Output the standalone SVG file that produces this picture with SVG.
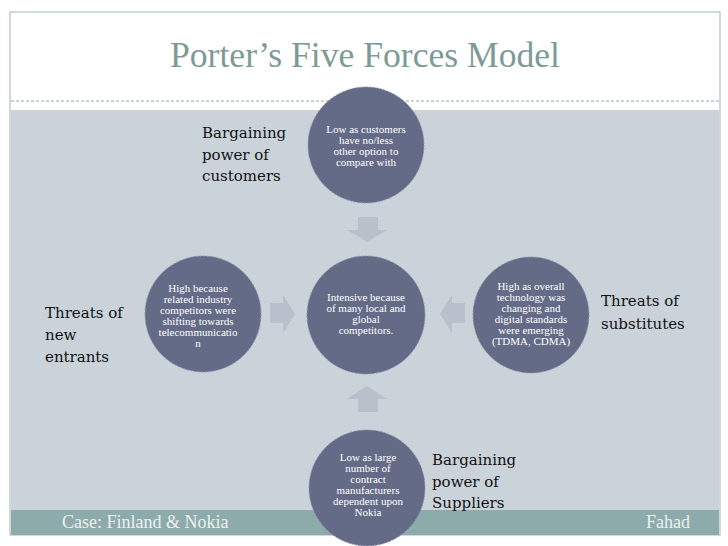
<svg xmlns="http://www.w3.org/2000/svg" width="728" height="546" viewBox="0 0 728 546">
<style>
.node{fill:#636b87;stroke:#8d93aa;stroke-width:1;stroke-dasharray:2 1.5}
.ct{font-family:"Liberation Serif",serif;font-size:11px;fill:#ffffff;text-anchor:middle}
.lb{font-family:"DejaVu Serif",serif;font-size:15px;fill:#111111}
.arr{fill:#b9c0cb}
</style>
<rect width="728" height="546" fill="#ffffff"/>
<rect x="10" y="12" width="710" height="523" fill="#ffffff" stroke="#9fb3b0" stroke-width="1"/>
<rect x="11" y="110" width="708" height="400" fill="#c9d3d9"/>
<rect x="11" y="510" width="708" height="25" fill="#8cabaa"/>
<line x1="11" y1="101" x2="719" y2="101" stroke="#9aa4a8" stroke-width="1" stroke-dasharray="3 2"/>
<text x="365" y="67" font-family="Liberation Serif,serif" font-size="35" fill="#7e9a96" text-anchor="middle" textLength="390" lengthAdjust="spacingAndGlyphs">Porter’s Five Forces Model</text>
<text x="62" y="528" font-family="Liberation Serif,serif" font-size="18" fill="#eef2f1">Case: Finland &amp; Nokia</text>
<text x="690" y="528" font-family="Liberation Serif,serif" font-size="18" fill="#eef2f1" text-anchor="end">Fahad</text>
<g id="connectors">
<path class="arr" d="M358,217 H378 V230 H387 L367,242 L347,230 H358 Z"/>
<path class="arr" d="M358,412 H378 V399 H387 L367,386 L347,399 H358 Z"/>
<path class="arr" d="M270,303 V323 H283 V333 L295,314 L283,295 V303 Z"/>
<path class="arr" d="M465,303 V323 H452 V333 L440,314 L452,295 V303 Z"/>
</g>
<g id="top">
<circle class="node" cx="366" cy="145" r="58"/>
<text class="ct"><tspan x="366" y="133">Low as customers</tspan><tspan x="366" y="144">have no/less</tspan><tspan x="366" y="155">other option to</tspan><tspan x="366" y="166">compare with</tspan></text>
</g>
<g id="center">
<circle class="node" cx="366" cy="315" r="59"/>
<text class="ct"><tspan x="366" y="301">Intensive because</tspan><tspan x="366" y="312">of many local and</tspan><tspan x="366" y="323">global</tspan><tspan x="366" y="334">competitors.</tspan></text>
</g>
<g id="left">
<circle class="node" cx="203" cy="314" r="58"/>
<text class="ct"><tspan x="198" y="292">High because</tspan><tspan x="198" y="303">related industry</tspan><tspan x="198" y="314">competitors were</tspan><tspan x="198" y="325">shifting towards</tspan><tspan x="198" y="336">telecommunicatio</tspan><tspan x="198" y="347">n</tspan></text>
</g>
<g id="right">
<circle class="node" cx="531" cy="315" r="58"/>
<text class="ct"><tspan x="531" y="290">High as overall</tspan><tspan x="531" y="301">technology was</tspan><tspan x="531" y="312">changing and</tspan><tspan x="531" y="323">digital standards</tspan><tspan x="531" y="334">were emerging</tspan><tspan x="531" y="345">(TDMA, CDMA)</tspan></text>
</g>
<g id="bottom">
<circle class="node" cx="367" cy="488" r="58"/>
<text class="ct"><tspan x="368" y="461">Low as large</tspan><tspan x="368" y="472">number of</tspan><tspan x="368" y="483">contract</tspan><tspan x="368" y="494">manufacturers</tspan><tspan x="368" y="505">dependent upon</tspan><tspan x="368" y="516">Nokia</tspan></text>
</g>
<g id="label-customers">
<text class="lb"><tspan x="202" y="138">Bargaining</tspan><tspan x="202" y="160">power of</tspan><tspan x="202" y="181">customers</tspan></text>
</g>
<g id="label-entrants">
<text class="lb"><tspan x="45" y="318">Threats of</tspan><tspan x="45" y="340">new</tspan><tspan x="45" y="362">entrants</tspan></text>
</g>
<g id="label-substitutes">
<text class="lb"><tspan x="601" y="306">Threats of</tspan><tspan x="601" y="329">substitutes</tspan></text>
</g>
<g id="label-suppliers">
<text class="lb"><tspan x="432" y="465">Bargaining</tspan><tspan x="432" y="487">power of</tspan><tspan x="432" y="508">Suppliers</tspan></text>
</g>
</svg>
